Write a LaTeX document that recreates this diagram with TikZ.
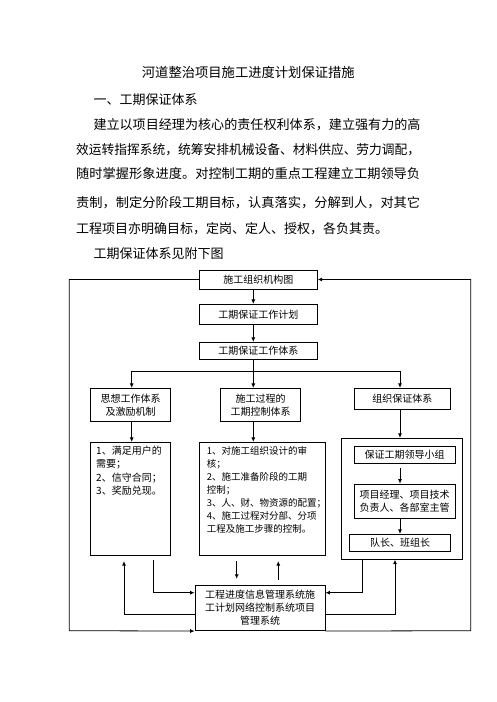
\documentclass[tikz,border=0pt]{standalone}
\usepackage{fontspec}
\usepackage{graphicx}
\setmainfont{Noto Sans CJK SC}
\usetikzlibrary{arrows.meta,calc}
\newcommand{\jline}[2]{\resizebox{#1}{\height}{#2}}
\begin{document}
\begin{tikzpicture}[x=1pt,y=-1pt,
  box/.style={draw, line width=0.8pt, inner sep=0pt, font=\fontsize{10}{13.3}\selectfont, align=center},
  arr/.style={-{Latex[length=4.5pt,width=4pt]}, line width=0.8pt},
  ln/.style={line width=0.8pt},
  body/.style={anchor=base west, inner sep=0pt, font=\fontsize{13}{13}\selectfont},
  inner/.style={anchor=north west, inner sep=0pt, align=left}]
\useasboundingbox[fill=white] (0,0) rectangle (496,702);
% text
\node[anchor=base, inner sep=0pt, font=\fontsize{13.3}{13.3}\selectfont] (title) at (248.3,77.6) {河道整治项目施工进度计划保证措施};
\node[body] (h1) at (93.3,104.1) {一、工期保证体系};
\node[body] (p1) at (93.3,129.8) {\jline{327pt}{建立以项目经理为核心的责任权利体系，建立强有力的高}};
\node[body] (p2) at (76,154.1) {\jline{344pt}{效运转指挥系统，统筹安排机械设备、材料供应、劳力调配，}};
\node[body] (p3) at (76,178.1) {\jline{344pt}{随时掌握形象进度。对控制工期的重点工程建立工期领导负}};
\node[body] (p4) at (76,207.5) {\jline{344pt}{责制，制定分阶段工期目标，认真落实，分解到人，对其它}};
\node[body] (p5) at (76,233.1) {工程项目亦明确目标，定岗、定人、授权，各负其责。};
\node[body] (p6) at (93.3,258.1) {工期保证体系见附下图};
% boxes
\node[box, minimum width=118pt, minimum height=19pt] (top) at (258.3,279.5) {施工组织机构图};
\node[box, minimum width=118pt, minimum height=20pt] (plan) at (258.3,314.3) {工期保证工作计划};
\node[box, minimum width=118pt, minimum height=17pt] (sys) at (258.3,350.8) {工期保证工作体系};
\node[box, minimum width=80pt, minimum height=33.4pt] (A1) at (130.7,405) {思想工作体系\\及激励机制};
\node[box, minimum width=80pt, minimum height=33.4pt] (B1) at (260.7,405) {施工过程的\\工期控制体系};
\node[box, minimum width=96.7pt, minimum height=21pt] (C1) at (402.3,398.8) {组织保证体系};
\node[box, minimum width=80pt, minimum height=113.4pt] (A2) at (130.7,499) {};
\node[box, minimum width=125.7pt, minimum height=113.4pt] (B2) at (262.2,499) {};
\node[box, minimum width=121pt, minimum height=121pt] (C2) at (402.2,498.8) {};
\node[box, minimum width=101pt, minimum height=16.6pt] (C2a) at (404.5,455) {保证工期领导小组};
\node[box, minimum width=101pt, minimum height=34.3pt] (C2b) at (404.5,501.2) {项目经理、项目技术\\负责人、各部室主管};
\node[box, minimum width=101.4pt, minimum height=17.4pt] (C2c) at (400,543) {队长、班组长};
\node[box, minimum width=130pt, minimum height=45.7pt] (D) at (260,607.8) {工程进度信息管理系统施\\工计划网络控制系统项目\\管理系统};
\node[inner, font=\fontsize{10}{13.3}\selectfont] (A2t) at (96,446) {1、满足用户的\\需要；\\2、信守合同；\\3、奖励兑现。};
\node[inner, font=\fontsize{9.5}{12.9}\selectfont] (B2t) at (206.7,446.7) {1、对施工组织设计的审\\核；\\2、施工准备阶段的工期\\控制；\\3、人、财、物资源的配置；\\4、施工过程对分部、分项\\工程及施工步骤的控制。};
% helper coordinates
\coordinate (xa) at (253.3,0);
\coordinate (xl) at (131.7,0);
\coordinate (xr) at (400,0);
\coordinate (br) at (253.3,371);
\coordinate (a1) at (153.3,0);
\coordinate (a2) at (124,0);
\coordinate (b1) at (236.7,0);
\coordinate (b2) at (278.3,0);
\coordinate (c1) at (362.7,0);
\coordinate (c2) at (395,0);
\coordinate (ya) at (0,592.7);
\coordinate (yb) at (0,614);
\coordinate (L) at (69.3,630.7);
\coordinate (R) at (470.7,630.7);
% connectors
\draw[arr] (xa |- top.south) -- (xa |- plan.north);
\draw[arr] (xa |- plan.south) -- (xa |- sys.north);
\draw[ln] (xa |- sys.south) -- (br);
\draw[arr] (br) -| (xl |- A1.north);
\draw[arr] (br) -- (xa |- B1.north);
\draw[arr] (br) -| (xr |- C1.north);
\draw[arr] (xl |- A1.south) -- (xl |- A2.north);
\draw[arr] (xa |- B1.south) -- (xa |- B2.north);
\draw[arr] (xr |- C1.south) -- (xr |- C2.north);
\draw[arr, shorten <=4.5pt] (xr |- C2a.south) -- (xr |- C2b.north);
\draw[arr] (xr |- C2b.south) -- (xr |- C2c.north);
\draw[arr] (top.west) -| (L) -- (D.south west);
\draw[arr] (D.south east) -- (R) |- (top.east);
\draw[arr, shorten <=4pt] (a1 |- A2.south) |- (D.west |- ya);
\draw[arr, shorten >=5pt] (D.west |- yb) -| (a2 |- A2.south);
\draw[arr, shorten <=5pt, shorten >=5.7pt] (b1 |- B2.south) -- (b1 |- D.north);
\draw[arr, shorten <=4.5pt, shorten >=5pt] (b2 |- D.north) -- (b2 |- B2.south);
\draw[arr] (c1 |- C2.south) |- (D.east |- ya);
\draw[arr] (D.east |- yb) -| (c2 |- C2.south);
\end{tikzpicture}
\end{document}
